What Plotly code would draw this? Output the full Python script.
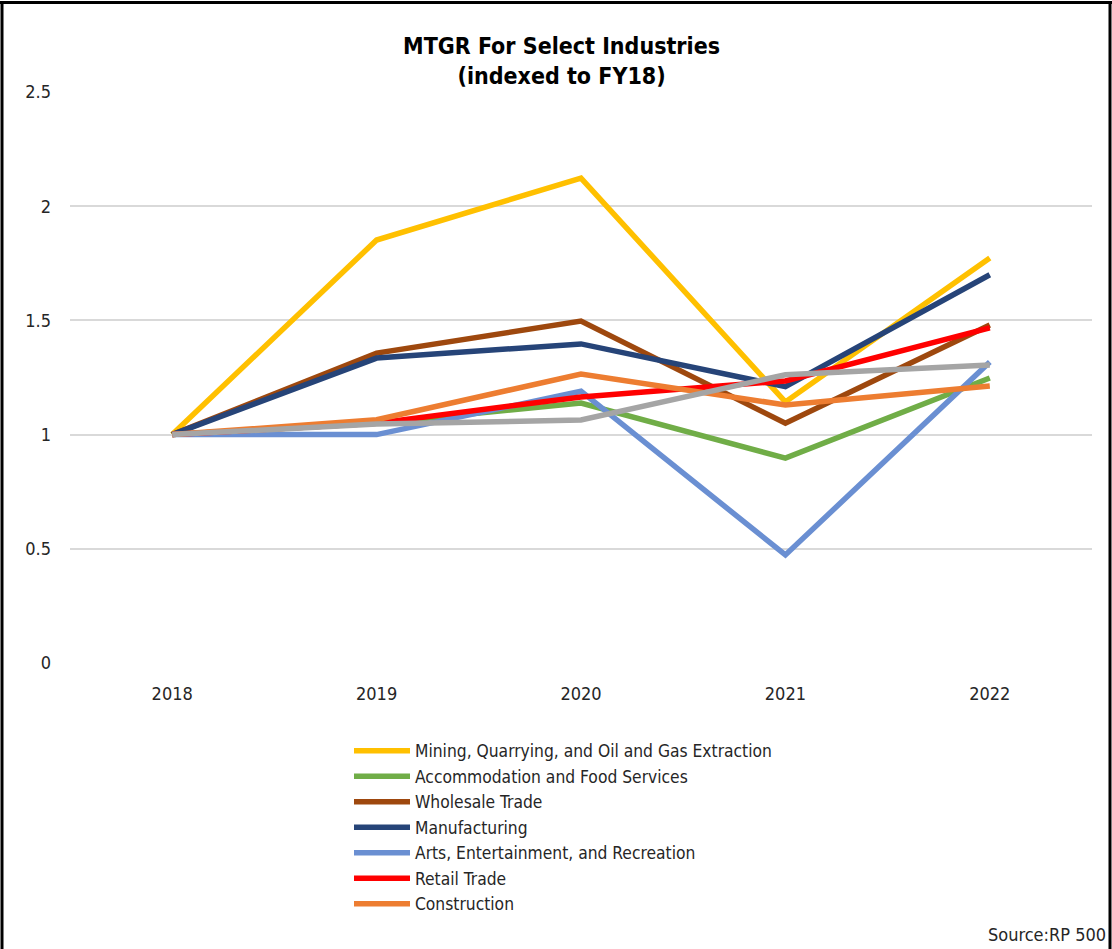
import plotly.graph_objects as go

years = ["2018", "2019", "2020", "2021", "2022"]

mining = [1.0, 1.852, 2.123, 1.143, 1.773]
accommodation = [1.0, 1.05, 1.138, 0.897, 1.248]
wholesale = [1.0, 1.357, 1.497, 1.05, 1.48]
manufacturing = [1.0, 1.335, 1.397, 1.21, 1.70]
arts = [1.0, 1.0, 1.19, 0.473, 1.318]
retail = [1.0, 1.05, 1.165, 1.235, 1.467]
construction = [1.0, 1.065, 1.265, 1.13, 1.213]
other = [1.0, 1.046, 1.064, 1.262, 1.305]

series = [
    ("Mining, Quarrying, and Oil and Gas Extraction", mining, "#FFC000", True),
    ("Accommodation and Food Services", accommodation, "#70AD47", True),
    ("Wholesale Trade", wholesale, "#9E480E", True),
    ("Manufacturing", manufacturing, "#264478", True),
    ("Arts, Entertainment, and Recreation", arts, "#6A8FD2", True),
    ("Retail Trade", retail, "#FF0000", True),
    ("Construction", construction, "#ED7D31", True),
    ("Other", other, "#A5A5A5", False),
]

FONT = "DejaVu Sans Condensed, Liberation Sans Narrow, Liberation Sans, Arial, sans-serif"

fig = go.Figure()
for name, vals, color, show in series:
    fig.add_trace(go.Scatter(x=years, y=vals, mode="lines", name=name,
                             line=dict(color=color, width=5.5),
                             showlegend=show))

W, H = 1112, 949
L, R, T, B = 70, 20, 92, 286
pw = W - L - R
ph = H - T - B

def px_x(p):
    return (p - L) / pw

def px_y(p):
    return (H - B - p) / ph

fig.update_layout(
    width=W, height=H,
    margin=dict(l=L, r=R, t=T, b=B),
    paper_bgcolor="white", plot_bgcolor="white",
    font=dict(family=FONT, size=17, color="#262626"),
    title=dict(text="<b>MTGR For Select Industries<br>(indexed to FY18)</b>",
               x=0.505, xref="container", xanchor="center",
               y=1 - 54 / H, yref="container", yanchor="top",
               font=dict(family=FONT, size=23, color="#000000")),
    xaxis=dict(type="category", range=[-0.5, 4.5], showgrid=False, showline=False,
               zeroline=False, ticks="", ticklabelstandoff=18,
               tickfont=dict(size=18, color="#262626")),
    yaxis=dict(range=[0, 2.5], dtick=0.5, showgrid=True, gridcolor="#D9D9D9",
               gridwidth=2, zeroline=False, showline=False, ticks="",
               ticklabelstandoff=18, tickfont=dict(size=18, color="#262626"),
               tickformat="~g"),
    legend=dict(x=px_x(349), y=px_y(733), xanchor="left", yanchor="top",
                bgcolor="rgba(0,0,0,0)", font=dict(size=17.3, color="#262626"),
                tracegroupgap=0, itemwidth=56, traceorder="normal"),
    showlegend=True,
)

fig.add_annotation(text="Source:RP 500", xref="paper", yref="paper",
                   x=px_x(1108), y=px_y(934), xanchor="right", yanchor="middle",
                   showarrow=False, font=dict(family=FONT, size=18, color="#262626"))

frame = dict(color="black", width=3)
fig.add_shape(type="line", xref="paper", yref="paper",
              x0=px_x(2), x1=px_x(2), y0=px_y(1), y1=px_y(960), line=frame, layer="above")
fig.add_shape(type="line", xref="paper", yref="paper",
              x0=px_x(1110), x1=px_x(1110), y0=px_y(1), y1=px_y(960), line=frame, layer="above")

post = (
    "document.body.style.margin='0';document.body.style.padding='0';"
    "var d=document.createElement('div');"
    "d.style.cssText='position:absolute;left:0;top:1px;width:1112px;height:3px;"
    "background:#000;pointer-events:none;z-index:10;';"
    "document.body.appendChild(d);"
)

fig.write_html("out.html", config={"displayModeBar": False}, post_script=post)
